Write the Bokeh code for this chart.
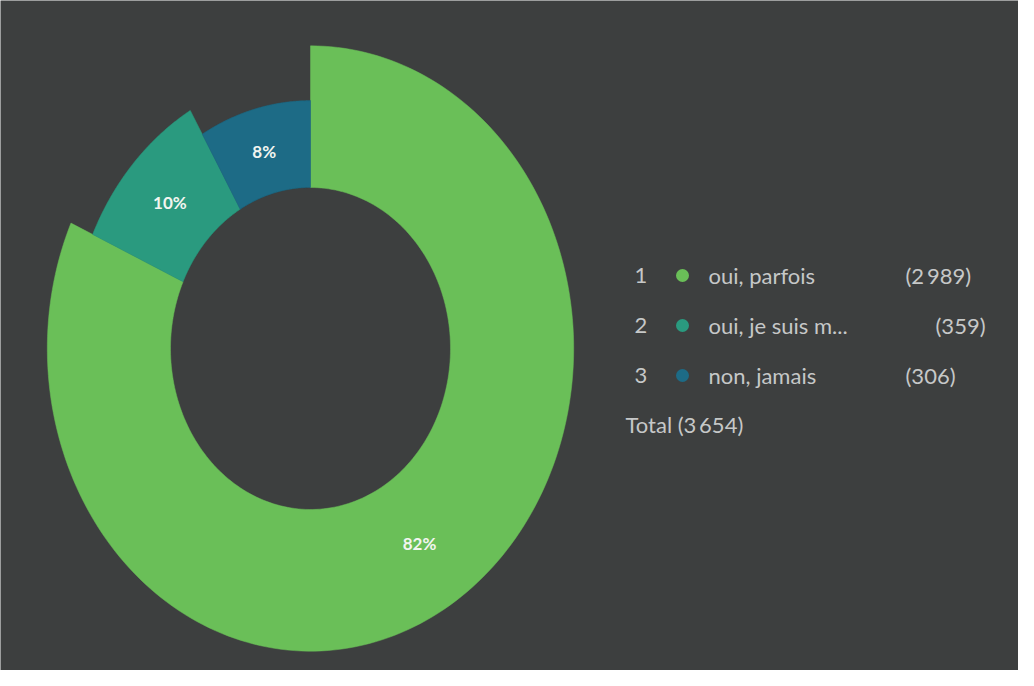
import numpy as np
from bokeh.plotting import figure
from bokeh.core.properties import value
from bokeh.embed import file_html
from bokeh.resources import INLINE

# ---- data ----
categories = ["oui, parfois", "oui, je suis m...", "non, jamais"]
counts = [2989, 359, 306]
ranks = ["1", "2", "3"]

# ---- style ----
colors = ["#6abf58", "#2a9a7f", "#1d6b86"]
bg = "#3d3f3f"
inner_r = 1.0
outer_r = [1.88, 1.71, 1.54]

W, H = 1018, 670
SX, SY = 140.0, 161.0      # px per data unit (x, y)
CX, CY = 310.0, 348.0      # pie centre in figure px
x0 = -CX / SX
x1 = (W - CX) / SX
y1 = CY / SY
y0 = -(H - CY) / SY


def fx(px):
    return x0 + (px - 8) / SX


def fy(py):
    return y1 - (py - 8) / SY


p = figure(width=W, height=H, x_range=(x0, x1), y_range=(y0, y1),
           output_backend="svg", toolbar_location=None, min_border=0,
           x_axis_type=None, y_axis_type=None,
           background_fill_color=bg, border_fill_color=bg,
           outline_line_color=None)
p.grid.visible = False

total = sum(counts)
fr = np.array(counts, dtype=float) / total
ends = np.cumsum(fr)
starts = ends - fr

xs, ys = [], []
for s, e, ro in zip(starts, ends, outer_r):
    t = np.linspace(s, e, 200)
    a = np.pi / 2 - 2 * np.pi * t
    ox, oy = ro * np.cos(a), ro * np.sin(a)
    ix, iy = inner_r * np.cos(a[::-1]), inner_r * np.sin(a[::-1])
    xs.append(list(np.concatenate([ox, ix])))
    ys.append(list(np.concatenate([oy, iy])))

p.patches(xs, ys, fill_color=colors, line_color=colors, line_width=0.5)

mid = (starts + ends) / 2
ma = np.pi / 2 - 2 * np.pi * mid
rm = (inner_r + np.array(outer_r)) / 2
pct = [f"{round(f * 100)}%" for f in fr]
p.text(x=list(rm * np.cos(ma)), y=list(rm * np.sin(ma)), text=pct,
       text_color="#f2f5f0", text_font=value("Lato"), text_font_style="bold",
       text_font_size=value("17px"), text_align="center", text_baseline="middle")

# ---- legend ----
row_py = [283, 333, 383]
rank_px, dot_px, name_px = 642, 690, 716
count_px = [913, 943, 913]
txt_col = "#c6c8c8"
fs = value("22px")

ly = [fy(v) for v in row_py]
p.text(x=[fx(rank_px)] * 3, y=ly, text=ranks, text_color=txt_col,
       text_font=value("Lato"), text_font_size=fs, text_align="left", text_baseline="middle")
p.scatter(x=[fx(dot_px)] * 3, y=ly, size=13, fill_color=colors, line_color=None)
p.text(x=[fx(name_px)] * 3, y=ly, text=categories, text_color=txt_col,
       text_font=value("Lato"), text_font_size=fs, text_align="left", text_baseline="middle")
fmt = lambda v: f"{v:,}".replace(",", "\u2009")
p.text(x=[fx(v) for v in count_px], y=ly, text=[f"({fmt(c)})" for c in counts],
       text_color=txt_col, text_font=value("Lato"), text_font_size=fs,
       text_align="left", text_baseline="middle")
p.text(x=[fx(633)], y=[fy(432)], text=[f"Total ({fmt(total)})"], text_color=txt_col,
       text_font=value("Lato"), text_font_size=fs, text_align="left", text_baseline="middle")

open("out.html", "w").write(file_html(p, INLINE))
